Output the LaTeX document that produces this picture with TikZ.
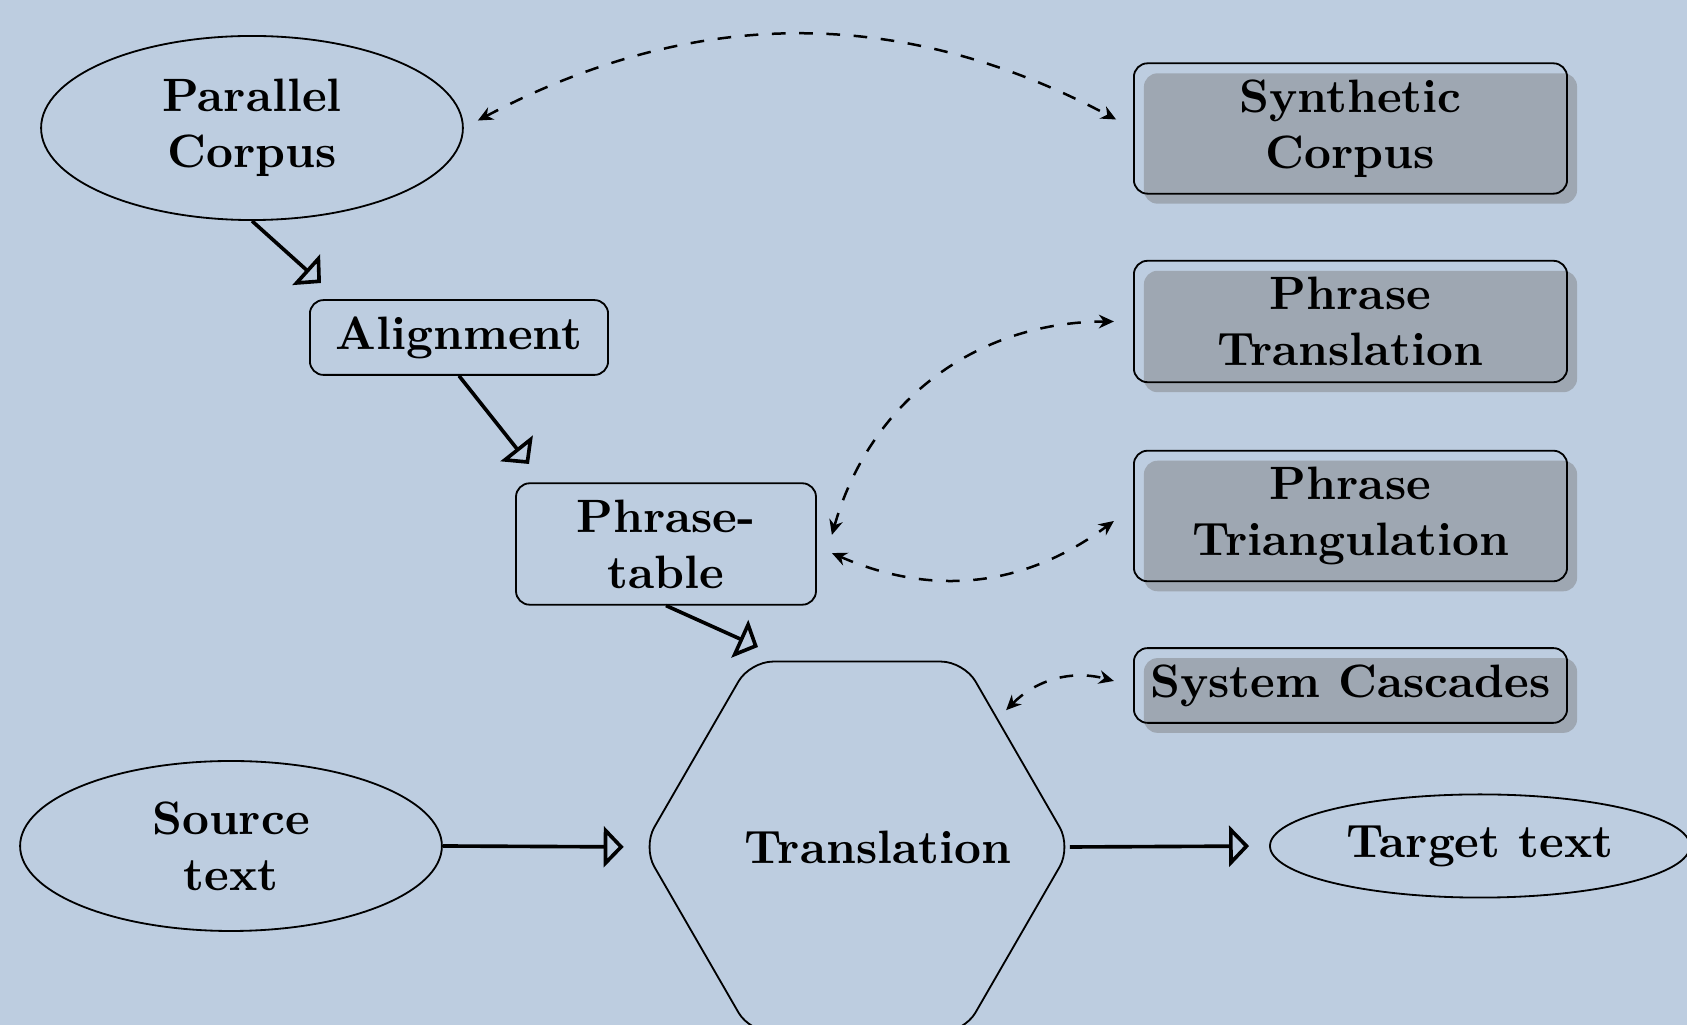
\documentclass[tikz,border=0pt]{standalone}
\usetikzlibrary{shapes.geometric,arrows.meta,shadows}
\definecolor{bg}{RGB}{189,205,224}
\definecolor{shadowgray}{RGB}{158,167,178}
\begin{document}
\begin{tikzpicture}[x=0.22pt,y=0.22pt,
  every node/.style={font=\fontsize{10.3pt}{12.3pt}\selectfont\bfseries, align=center},
  ell/.style={draw, ellipse, inner sep=0pt},
  rbox/.style={draw, rounded corners=3pt, inner xsep=2.5pt, inner ysep=3.6pt, minimum width=95.3pt},
  shbox/.style={rbox, drop shadow={shadow xshift=2.2pt, shadow yshift=-2.2pt, fill=shadowgray, opacity=1}},
  bigarrow/.style={line width=0.8pt, -{Triangle[open, length=4.4pt, width=9pt]}},
  dasharrow/.style={line width=0.55pt, dashed, {Stealth[length=3.3pt,width=3pt]}-{Stealth[length=3.3pt,width=3pt]}}
]
\fill[bg] (0,0) rectangle (1687,1025);
\useasboundingbox (0,0) rectangle (1687,1025);

% nodes
\node[ell, minimum width=92.8pt, minimum height=40.5pt] (pc) at (252,897) {Parallel\\Corpus};
\node[ell, minimum width=92.8pt, minimum height=37.4pt] (src) at (231,179) {Source\\text};
\node[ell, minimum width=92.4pt, minimum height=22.7pt] (tgt) at (1480,179) {Target text};

\node[shbox] (sc) at (1350.5,896.5) {Synthetic\\Corpus};
\node[shbox] (ptr) at (1350.5,703.5) {Phrase\\Translation};
\node[shbox] (ptri) at (1350.5,509) {Phrase\\Triangulation};
\node[shbox] (casc) at (1350.5,339.5) {System Cascades};

\node[rbox, minimum width=65.6pt] (al) at (459,687.5) {Alignment};
\node[rbox, minimum width=66pt] (ptab) at (666,481) {Phrase-\\table};

\node[draw, regular polygon, regular polygon sides=6, minimum size=94.2pt, inner sep=0pt, rounded corners=5pt] (trans) at (857,178) {};
\node (translabel) at (878,178) {Translation};

% arrow end points
\coordinate (c1) at (321,742);
\coordinate (c2) at (529,561);
\coordinate (c3) at (758,378);

% solid arrows
\draw[bigarrow] (pc.south) -- (c1);
\draw[bigarrow] (al.south) -- (c2);
\draw[bigarrow] (ptab.south) -- (c3);
\draw[bigarrow, shorten >=4pt] (src.east) -- (trans.west);
\draw[bigarrow, shorten >=4.4pt] ([xshift=-0.5pt]trans.east) -- (tgt.west);

% dashed arrows
\draw[dasharrow, shorten <=3.5pt, shorten >=4.2pt] (pc.east) to[bend left=28] (sc.west);
\draw[dasharrow] ([xshift=3.3pt,yshift=2pt]ptab.east) to[bend left=37] ([xshift=-4.2pt]ptr.west);
\draw[dasharrow] ([xshift=3.3pt,yshift=-2pt]ptab.east) to[bend right=30] ([xshift=-4.2pt,yshift=-1.1pt]ptri.west);
\draw[dasharrow] ([xshift=32.8pt,yshift=30.1pt]trans.center) to[bend left=30] ([xshift=-4.2pt,yshift=1pt]casc.west);
\end{tikzpicture}
\end{document}
